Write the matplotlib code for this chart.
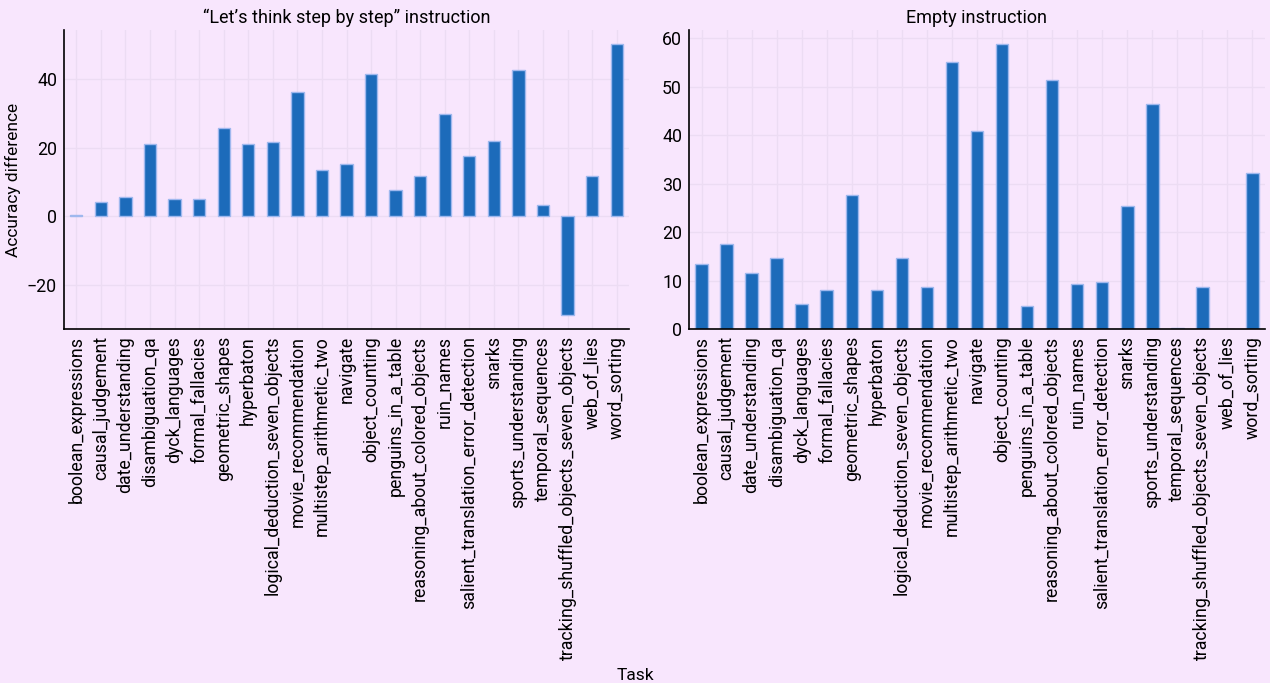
import matplotlib
matplotlib.use("Agg")
import matplotlib.pyplot as plt
import numpy as np

tasks = ["boolean_expressions", "causal_judgement", "date_understanding", "disambiguation_qa",
         "dyck_languages", "formal_fallacies", "geometric_shapes", "hyperbaton",
         "logical_deduction_seven_objects", "movie_recommendation", "multistep_arithmetic_two",
         "navigate", "object_counting", "penguins_in_a_table", "reasoning_about_colored_objects",
         "ruin_names", "salient_translation_error_detection", "snarks", "sports_understanding",
         "temporal_sequences", "tracking_shuffled_objects_seven_objects", "web_of_lies", "word_sorting"]

step_by_step = [0.4, 4.2, 5.5, 21.0, 5.0, 5.0, 25.9, 21.2, 21.6, 36.3, 13.5, 15.3, 41.7,
                7.7, 11.7, 30.0, 17.5, 21.9, 42.9, 3.2, -29.0, 11.7, 50.5]
empty = [13.35, 17.6, 11.6, 14.6, 5.2, 8.1, 27.6, 8.1, 14.7, 8.6, 55.2, 40.8, 58.8,
         4.8, 51.5, 9.2, 9.8, 25.3, 46.4, 0.3, 8.6, 0.1, 32.3]

titles = ["\u201cLet\u2019s think step by step\u201d instruction", "Empty instruction"]

BG = "#f8e6fd"
BAR = "#1c6bba"
EDGE = "#9fb8ee"
GRID = "#ecdcf3"

plt.rcParams['font.family'] = ['Roboto', 'DejaVu Sans']

fig = plt.figure(figsize=(12.7, 6.83), dpi=100, facecolor=BG)
W, H = 1270, 683
axes = [fig.add_axes([64 / W, 1 - 329 / H, (629 - 64) / W, (329 - 30) / H]),
        fig.add_axes([689 / W, 1 - 329 / H, (1265 - 689) / W, (329 - 30) / H])]

x = np.arange(len(tasks))
for ax, vals, title in zip(axes, [step_by_step, empty], titles):
    ax.set_facecolor(BG)
    ax.set_axisbelow(True)
    ax.grid(True, color=GRID, linewidth=1)
    ax.bar(x, vals, width=0.5, color=BAR, edgecolor=EDGE, linewidth=1)
    ax.set_xlim(-0.5, len(tasks) - 0.5)
    ax.set_xticks(x)
    ax.set_xticklabels(tasks, rotation=90, fontsize=12.8)
    ax.tick_params(length=0, labelsize=12.8, pad=5)
    for s in ["top", "right"]:
        ax.spines[s].set_visible(False)
    for s in ["left", "bottom"]:
        ax.spines[s].set_color("black")
        ax.spines[s].set_linewidth(1.2)
    ax.set_title(title, fontsize=13, pad=5)

axes[0].set_ylabel("Accuracy difference", fontsize=12.5, labelpad=4)
axes[0].set_yticks([-20, 0, 20, 40])
axes[1].set_yticks([0, 10, 20, 30, 40, 50, 60])
fig.text(0.5, 1 - 675 / H, "Task", ha="center", va="center", fontsize=12.5)

fig.savefig("out.png", dpi=100, facecolor=BG)
